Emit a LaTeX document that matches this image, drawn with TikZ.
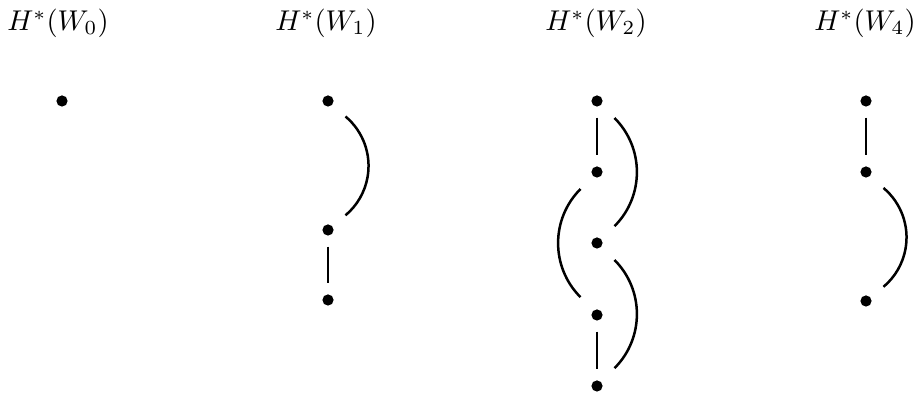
\documentclass[tikz,border=0pt]{standalone}
\begin{document}
\begin{tikzpicture}[x=0.5pt,y=-0.5pt,
  dotnode/.style={circle,fill=black,inner sep=0pt,minimum size=5.6pt},
  lbl/.style={inner sep=0pt,scale=1.43},
  link/.style={line width=1.25pt,shorten >=5.3pt,shorten <=5.3pt},
  arcline/.style={line width=1.25pt}]
\useasboundingbox (0,0) rectangle (918,394);
% labels
\node[lbl] (l0) at (58,23.5) {$H^*(W_0)$};
\node[lbl] (l1) at (326,23.5) {$H^*(W_1)$};
\node[lbl] (l2) at (596,23.5) {$H^*(W_2)$};
\node[lbl] (l4) at (865,23.5) {$H^*(W_4)$};
% column 0
\node[dotnode] (a0) at (62,101) {};
% column 1
\node[dotnode] (b0) at (328,101) {};
\node[dotnode] (b1) at (328,230) {};
\node[dotnode] (b2) at (328,300) {};
\draw[link] (b1) -- (b2);
\draw[arcline] ([shift={(17.5,15.5)}]b0.center) arc[start angle=-50,end angle=50,radius=64.5];
% column 2
\node[dotnode] (c0) at (597,101) {};
\node[dotnode] (c1) at (597,172) {};
\node[dotnode] (c2) at (597,243) {};
\node[dotnode] (c3) at (597,315) {};
\node[dotnode] (c4) at (597,386) {};
\draw[link] (c0) -- (c1);
\draw[link] (c3) -- (c4);
\draw[arcline] ([shift={(17.5,17)}]c0.center) arc[start angle=-45,end angle=45,radius=76.5];
\draw[arcline] ([shift={(17.5,17)}]c2.center) arc[start angle=-45,end angle=45,radius=76.5];
\draw[arcline] ([shift={(-16.5,17)}]c1.center) arc[start angle=225,end angle=135,radius=76.5];
% column 4
\node[dotnode] (d0) at (866,101) {};
\node[dotnode] (d1) at (866,172) {};
\node[dotnode] (d2) at (866,301) {};
\draw[link] (d0) -- (d1);
\draw[arcline] ([shift={(17.5,16)}]d1.center) arc[start angle=-50,end angle=50,radius=64.5];
\end{tikzpicture}
\end{document}
